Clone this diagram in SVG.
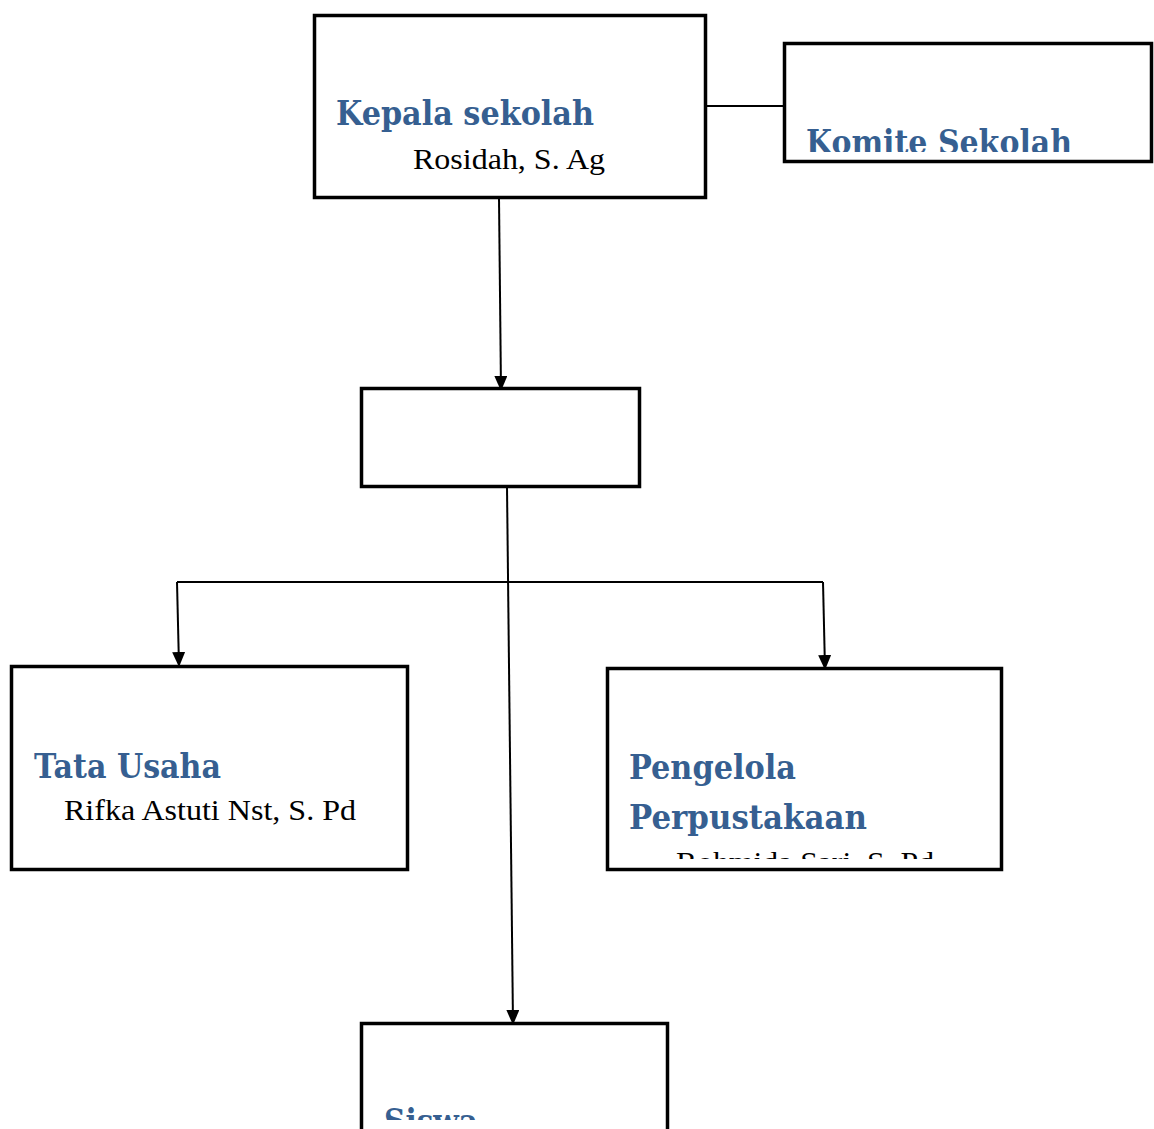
<svg xmlns="http://www.w3.org/2000/svg" width="1154" height="1129" viewBox="0 0 1154 1129">
<style>
.box{fill:#fff;stroke:#000;stroke-width:3.5}
.conn{stroke:#000;stroke-width:2;fill:none}
.h{font-family:"DejaVu Serif","Liberation Serif",serif;font-weight:bold;fill:#365F91;font-size:33px}
.n{font-family:"Liberation Serif","Times New Roman",serif;fill:#000;font-size:30px}
</style>
<defs>
<marker id="arrow" markerWidth="15" markerHeight="13" refX="14" refY="6.5" orient="auto" markerUnits="userSpaceOnUse">
<path d="M0,0 L15,6.5 L0,13 Z" fill="#000"/>
</marker>
<clipPath id="cKomite"><rect x="786" y="45" width="364" height="107"/></clipPath>
<clipPath id="cPeng"><rect x="609" y="670" width="391" height="189"/></clipPath>
<clipPath id="cSiswa"><rect x="363" y="1025" width="303" height="95"/></clipPath>
</defs>
<g id="connectors">
<line class="conn" x1="706" y1="106" x2="783" y2="106"/>
<line class="conn" x1="499" y1="198" x2="501" y2="390" marker-end="url(#arrow)"/>
<line class="conn" x1="507" y1="487" x2="513" y2="1024" marker-end="url(#arrow)"/>
<line class="conn" x1="177" y1="582" x2="823" y2="582"/>
<line class="conn" x1="177" y1="582" x2="179" y2="666" marker-end="url(#arrow)"/>
<line class="conn" x1="823" y1="582" x2="825" y2="669" marker-end="url(#arrow)"/>
</g>
<g id="kepala">
<rect class="box" x="314.5" y="15.5" width="391" height="182"/>
<text class="h" x="336" y="125" textLength="258" lengthAdjust="spacingAndGlyphs">Kepala sekolah</text>
<text class="n" x="413" y="169" textLength="192" lengthAdjust="spacingAndGlyphs">Rosidah, S. Ag</text>
</g>
<g id="komite">
<rect class="box" x="784.5" y="43.5" width="367" height="118"/>
<text class="h" x="806" y="154" textLength="266" lengthAdjust="spacingAndGlyphs" clip-path="url(#cKomite)">Komite Sekolah</text>
</g>
<g id="tengah">
<rect class="box" x="361.5" y="388.5" width="278" height="98"/>
</g>
<g id="tatausaha">
<rect class="box" x="11.5" y="666.5" width="396" height="203"/>
<text class="h" x="34" y="778" textLength="187" lengthAdjust="spacingAndGlyphs">Tata Usaha</text>
<text class="n" x="64" y="820" textLength="292" lengthAdjust="spacingAndGlyphs">Rifka Astuti Nst, S. Pd</text>
</g>
<g id="pengelola">
<rect class="box" x="607.5" y="668.5" width="394" height="201"/>
<text class="h" x="629" y="779" textLength="167" lengthAdjust="spacingAndGlyphs">Pengelola</text>
<text class="h" x="629" y="829" textLength="238" lengthAdjust="spacingAndGlyphs">Perpustakaan</text>
<text class="n" x="676" y="872" textLength="258" lengthAdjust="spacingAndGlyphs" clip-path="url(#cPeng)">Rohmida Sari, S. Pd</text>
</g>
<g id="siswa">
<rect class="box" x="361.5" y="1023.5" width="306" height="120"/>
<text class="h" x="384" y="1133" textLength="94" lengthAdjust="spacingAndGlyphs" clip-path="url(#cSiswa)">Siswa</text>
</g>
</svg>
